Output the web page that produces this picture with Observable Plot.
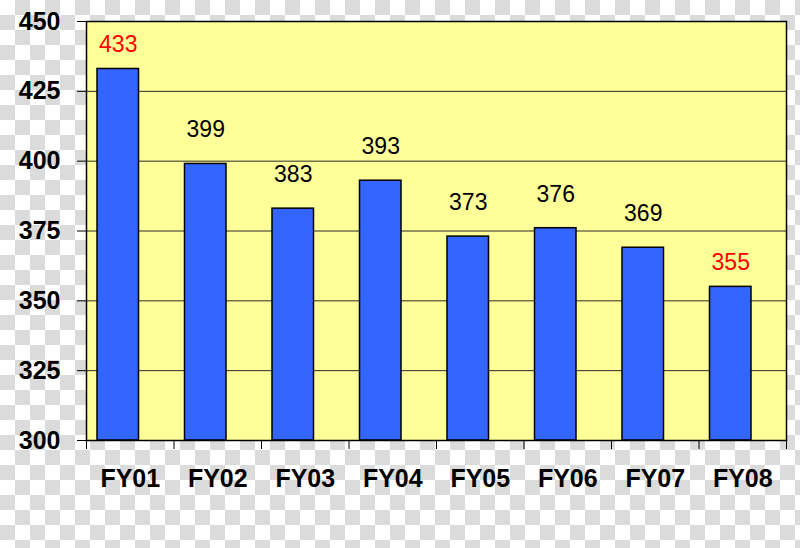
<!DOCTYPE html>
<html>
<head>
<meta charset="utf-8">
<script src="https://cdn.jsdelivr.net/npm/d3@7"></script>
<script src="https://cdn.jsdelivr.net/npm/@observablehq/plot@0.6"></script>
<style>
  html, body { margin: 0; padding: 0; }
  body {
    width: 800px; height: 548px; overflow: hidden;
    background-color: #ffffff;
    background-image: conic-gradient(#dbdbdb 25%, #ffffff 0 50%, #dbdbdb 0 75%, #ffffff 0);
    background-size: 30px 30px;
    background-position: 0 0;
  }
  #chart svg { display: block; }
</style>
</head>
<body>
<div id="chart"></div>
<script>
const categories = ["FY01", "FY02", "FY03", "FY04", "FY05", "FY06", "FY07", "FY08"];
const values = [433, 399, 383, 393, 373, 376, 369, 355];
const highlighted = ["FY01", "FY08"];
const yTicks = [300, 325, 350, 375, 400, 425, 450];

const data = categories.map((c, i) => ({category: c, value: values[i], hot: highlighted.includes(c)}));

const W = 800, H = 548;
const mL = 86, mR = 14, mT = 21, mB = 108;
const bw = (W - mL - mR) / categories.length;
const font = "'Liberation Sans', Arial, sans-serif";

const chart = Plot.plot({
  width: W,
  height: H,
  marginLeft: mL,
  marginRight: mR,
  marginTop: mT,
  marginBottom: mB,
  style: {background: "transparent", fontFamily: font, color: "#000"},
  x: {domain: categories, padding: 0, round: false, axis: null},
  y: {domain: [300, 450], axis: null},
  marks: [
    Plot.frame({fill: "#ffff99", stroke: null}),
    Plot.ruleY(yTicks.slice(1, -1), {stroke: "#2a2a2a", strokeWidth: 1}),
    Plot.barY(data, {
      x: "category", y1: 300, y2: "value",
      fill: "#3366ff", stroke: "#000", strokeWidth: 1.5,
      insetLeft: 11, insetRight: 35
    }),
    Plot.frame({stroke: "#000", strokeWidth: 1.5}),
    Plot.axisY({
      ticks: yTicks, tickSize: 9, tickPadding: 17,
      fontSize: 25, fontWeight: "bold", stroke: "#000", fill: "#000",
      tickFormat: d => String(d), label: null
    }),
    Plot.axisX({
      ticks: categories, tickSize: 9, text: null, dx: -bw / 2, stroke: "#000", label: null
    }),
    Plot.axisX({
      ticks: [categories[categories.length - 1]], tickSize: 9, text: null, dx: bw / 2, stroke: "#000", label: null
    }),
    Plot.axisX({
      ticks: categories, tickSize: 0, tickPadding: 29,
      fontSize: 25, fontWeight: "bold", fill: "#000", label: null
    }),
    Plot.text(data.filter(d => !d.hot), {
      x: "category", y: "value", text: d => String(d.value),
      dx: -12, dy: -34, fontSize: 23, fill: "#000"
    }),
    Plot.text(data.filter(d => d.hot), {
      x: "category", y: "value", text: d => String(d.value),
      dx: -12, dy: -24, fontSize: 23, fill: "#ff0000"
    })
  ]
});
document.getElementById("chart").appendChild(chart);
</script>
</body>
</html>
